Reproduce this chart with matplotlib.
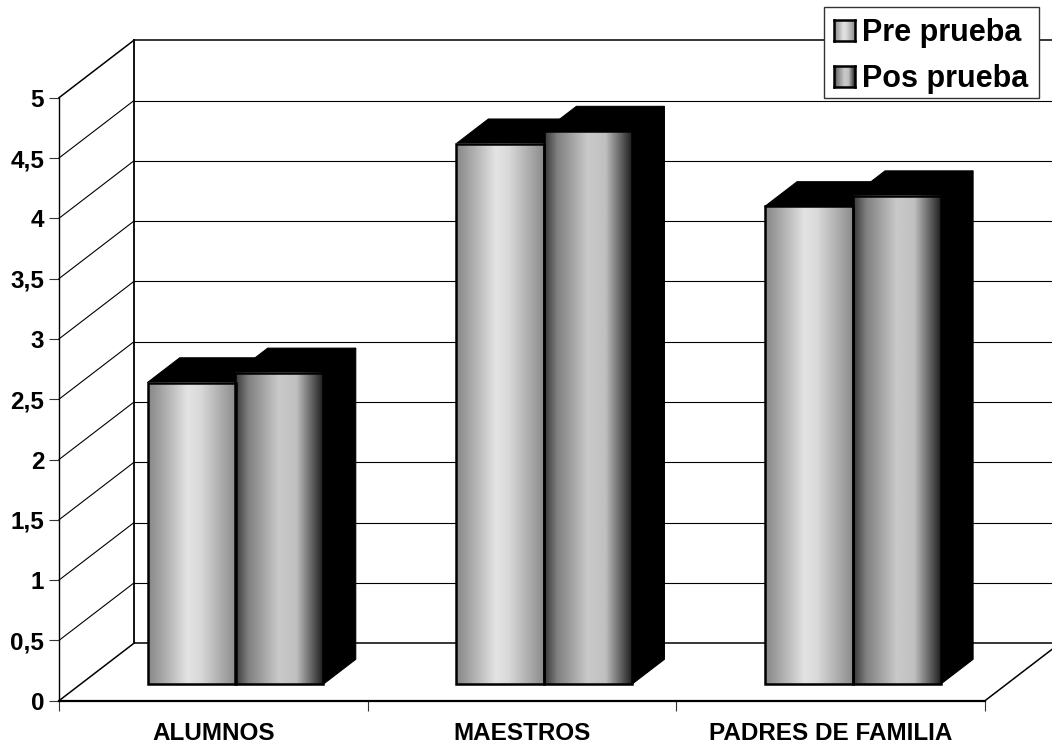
import numpy as np
import matplotlib.pyplot as plt
from matplotlib.patches import Polygon, Rectangle

plt.rcParams['font.family'] = ['Liberation Sans', 'DejaVu Sans']
plt.rcParams['font.weight'] = 'bold'

categories = ['ALUMNOS', 'MAESTROS', 'PADRES DE FAMILIA']
pre_prueba = [2.5, 4.48, 3.96]
pos_prueba = [2.58, 4.585, 4.05]
y_ticks = [0, 0.5, 1, 1.5, 2, 2.5, 3, 3.5, 4, 4.5, 5]
y_labels = ['0', '0,5', '1', '1,5', '2', '2,5', '3', '3,5', '4', '4,5', '5']

W, H = 1052, 744
# front plane of the box in pixels
LEFT, RIGHT, BOTTOM, TOP = 59, 985, 700.7, 97.7
# depth of the box, in axis units
DEPTH_X = 75 / ((RIGHT - LEFT) / 3)
DEPTH_Y = 57.5 / ((BOTTOM - TOP) / 5)
BAR_W = 88 / ((RIGHT - LEFT) / 3)
BAR_X0 = 66.75 / ((RIGHT - LEFT) / 3)
BAR_D0, BAR_D1 = 0.29, 0.72

# gradient stops across a bar (position, gray level)
PRE_STOPS = ([0, 0.12, 0.45, 0.6, 1], [0.53, 0.62, 0.89, 0.85, 0.55])
POS_STOPS = ([0, 0.15, 0.5, 0.7, 1], [0.22, 0.50, 0.79, 0.75, 0.13])


def proj(x, y, d):
    return x + d * DEPTH_X, y + d * DEPTH_Y


def gradient(stops):
    t = np.linspace(0, 1, 128)
    return np.interp(t, stops[0], stops[1]).reshape(1, -1)


def draw_bar(ax, x, value, stops):
    x0, y0 = proj(x, 0, BAR_D0)
    x1 = x0 + BAR_W
    y1 = y0 + value
    dx = (BAR_D1 - BAR_D0) * DEPTH_X
    dy = (BAR_D1 - BAR_D0) * DEPTH_Y
    side = [(x1, y0), (x1 + dx, y0 + dy), (x1 + dx, y1 + dy), (x1, y1)]
    top = [(x0, y1), (x0 + dx, y1 + dy), (x1 + dx, y1 + dy), (x1, y1)]
    ax.add_patch(Polygon(side, fc='black', ec='black', lw=0.8, zorder=3, clip_on=False))
    ax.add_patch(Polygon(top, fc='black', ec='black', lw=0.8, zorder=3, clip_on=False))
    ax.imshow(gradient(stops), extent=(x0, x1, y0, y1), cmap='gray', vmin=0, vmax=1,
              aspect='auto', interpolation='bilinear', zorder=4, clip_on=False)
    ax.add_patch(Rectangle((x0, y0), BAR_W, value, fc='none', ec='black', lw=1.8,
                           zorder=5, clip_on=False))


fig = plt.figure(figsize=(W / 100, H / 100), dpi=100)
ax = fig.add_axes([LEFT / W, 1 - BOTTOM / H, (RIGHT - LEFT) / W, (BOTTOM - TOP) / H])

# walls and gridlines of the box
x_far = 3 + DEPTH_X * 1.2
for v in y_ticks:
    lw = 1.1 if v in (0, 5) else 0.8
    bx, by = proj(0, v, 1)
    ax.plot([0, bx], [v, by], color='black', lw=lw, clip_on=False, zorder=1)
    ax.plot([bx, x_far], [by, by], color='black', lw=lw, clip_on=False, zorder=1)
ax.plot([DEPTH_X, DEPTH_X], [DEPTH_Y, 5 + DEPTH_Y], color='black', lw=1.3, clip_on=False, zorder=1)
rx, ry = proj(3, 0, 1)
ax.plot([3, rx], [0, ry], color='black', lw=1.1, clip_on=False, zorder=1)

for i in range(len(categories)):
    draw_bar(ax, i + BAR_X0, pre_prueba[i], PRE_STOPS)
    draw_bar(ax, i + BAR_X0 + BAR_W, pos_prueba[i], POS_STOPS)

ax.set_xlim(0, 3)
ax.set_ylim(0, 5)
ax.patch.set_visible(False)
for s in ('top', 'right'):
    ax.spines[s].set_visible(False)
ax.spines['left'].set_linewidth(1.0)
ax.spines['bottom'].set_linewidth(1.6)

ax.set_yticks(y_ticks)
ax.set_yticklabels(y_labels, fontsize=17.5, fontweight='bold')
ax.set_xticks([0, 1, 2, 3])
ax.set_xticklabels([])
ax.set_xticks([0.5, 1.5, 2.5], minor=True)
ax.set_xticklabels(categories, minor=True, fontsize=17.5, fontweight='bold')
ax.tick_params(axis='y', length=7.2, width=0.8, pad=3.5, color='#333333')
ax.tick_params(axis='x', which='major', length=7.2, width=0.8, color='#333333')
ax.tick_params(axis='x', which='minor', length=0, pad=15)

# legend box
box = Rectangle((824 / W, 1 - 98 / H), 215 / W, 91 / H, transform=fig.transFigure,
                fc='white', ec='#333333', lw=1.0, zorder=10)
fig.add_artist(box)
names = ['Pre prueba', 'Pos prueba']
stops_list = [PRE_STOPS, POS_STOPS]
for row, (name, stops) in enumerate(zip(names, stops_list)):
    sw_top = 20 + row * 46
    sw = fig.add_axes([833.5 / W, 1 - (sw_top + 21) / H, 21 / W, 21 / H], zorder=11)
    sw.imshow(gradient(stops), cmap='gray', vmin=0, vmax=1, aspect='auto', interpolation='bilinear')
    sw.set_xticks([])
    sw.set_yticks([])
    for s in sw.spines.values():
        s.set_linewidth(1.8)
    fig.text(862 / W, 1 - (41.5 + row * 45) / H, name, fontsize=22, fontweight='bold',
             va='baseline', ha='left', zorder=12)

fig.savefig('out.png', dpi=100)
